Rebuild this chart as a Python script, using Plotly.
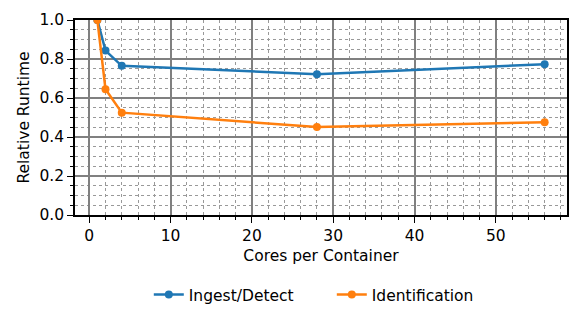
import plotly.graph_objects as go

cores = [1, 2, 4, 28, 56]
ingest_detect = [1.0, 0.843, 0.765, 0.722, 0.773]
identification = [1.0, 0.645, 0.525, 0.451, 0.476]

FS = 15.5

fig = go.Figure()
fig.add_trace(go.Scatter(x=cores, y=ingest_detect, mode="lines+markers", name="Ingest/Detect",
                         line=dict(color="#1f77b4", width=2.5), marker=dict(size=8, color="#1f77b4")))
fig.add_trace(go.Scatter(x=cores, y=identification, mode="lines+markers", name="Identification",
                         line=dict(color="#ff7f0e", width=2.5), marker=dict(size=8, color="#ff7f0e")))

axis_common = dict(showline=True, mirror=True, linecolor="black", linewidth=1.5,
                   ticks="outside", tickcolor="black", ticklen=6, tickwidth=1.3,
                   showgrid=True, gridcolor="#808080", gridwidth=1.5, zeroline=False,
                   tickfont=dict(family="DejaVu Sans", size=FS, color="black"))

fig.update_layout(
    width=581, height=324,
    margin=dict(l=75, r=14, t=20, b=109),
    paper_bgcolor="white", plot_bgcolor="white",
    font=dict(family="DejaVu Sans", size=FS, color="black"),
    xaxis=dict(range=[-1.75, 58.75], dtick=10, tick0=0,
               title=dict(text="Cores per Container", font=dict(size=FS), standoff=6),
               minor=dict(dtick=2, tick0=0, ticks="outside", ticklen=3.5, tickcolor="black",
                          showgrid=True, gridcolor="#999999", griddash="dot", gridwidth=1),
               **axis_common),
    yaxis=dict(range=[0, 1.0], dtick=0.2, tick0=0, tickformat=".1f",
               title=dict(text="Relative Runtime", font=dict(size=FS), standoff=6),
               minor=dict(dtick=0.05, tick0=0, ticks="outside", ticklen=3.5, tickcolor="black",
                          showgrid=True, gridcolor="#999999", griddash="dot", gridwidth=1),
               **axis_common),
    legend=dict(orientation="h", x=0.15, xanchor="left", y=-0.41, yanchor="middle",
                font=dict(size=FS), traceorder="normal", entrywidth=138, entrywidthmode="pixels"),
    showlegend=True,
)

fig.write_html("out.html", config={"displayModeBar": False},
               post_script="document.body.style.margin='0px';")
